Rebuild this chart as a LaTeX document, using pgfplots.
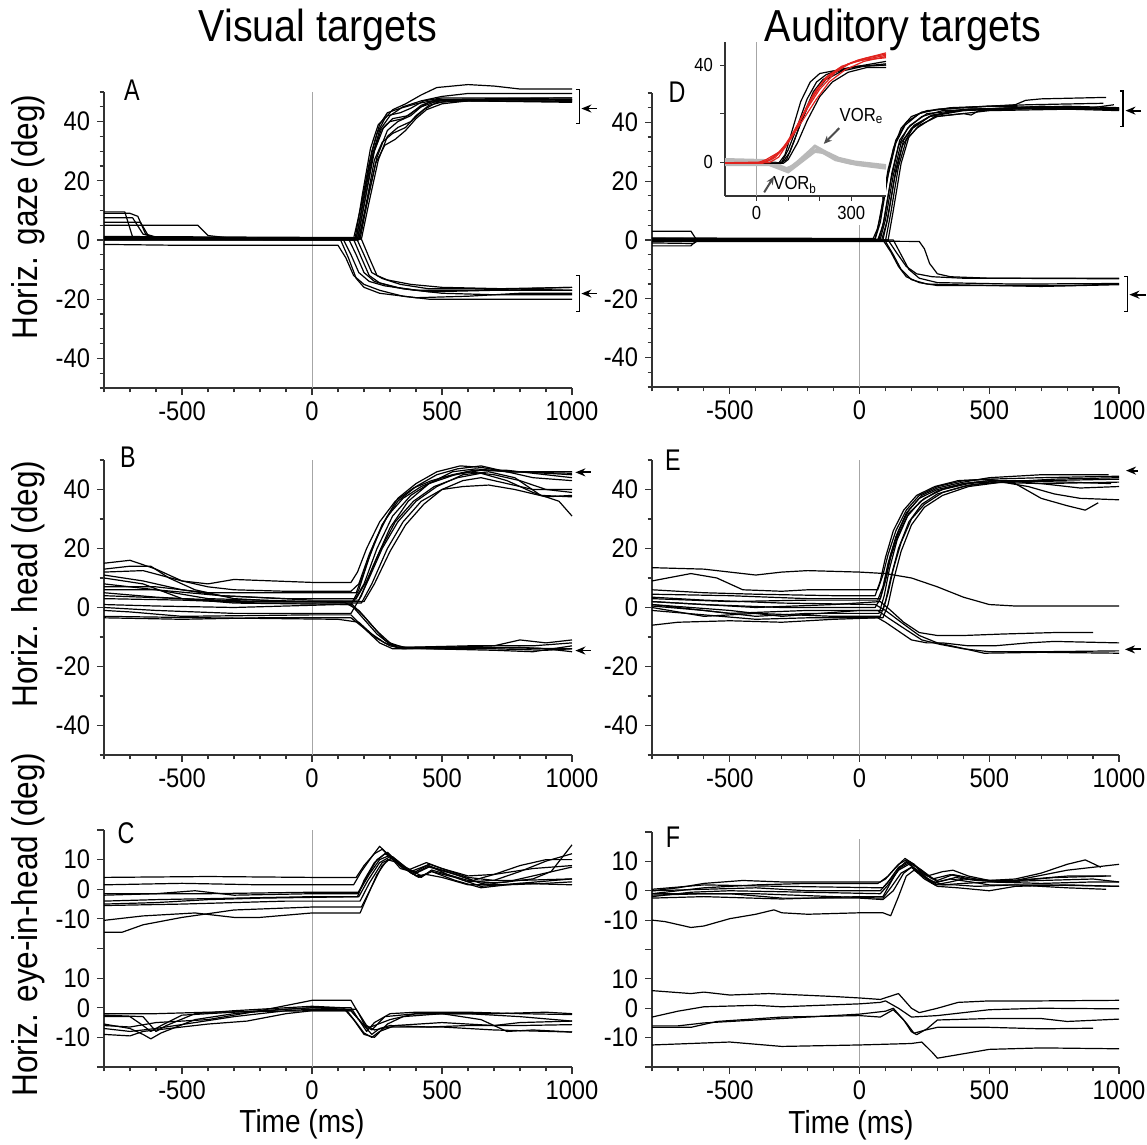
\documentclass[border=0pt]{standalone}
\usepackage{fontspec}
\setmainfont[FakeStretch=0.88]{Liberation Sans}
\newfontfamily\narrowf[FakeStretch=0.78]{Liberation Sans}
\usepackage{pgfplots}
\pgfplotsset{compat=1.18}
\usetikzlibrary{arrows.meta}
\definecolor{vred}{RGB}{225,35,30}
\pgfplotsset{
  tr/.style={black, line width=0.6bp, line join=round},
  pan/.style={scale only axis, width=234bp, anchor=south west,
    axis lines=left, axis line style={-, black!80, line width=0.7bp},
    xmin=-800, xmax=1000, xtick={-500,0,500,1000}, xticklabels={-500,0,500,1000},
    minor xtick={-800,-700,...,1000},
    tick align=outside, major tick length=3.5bp, minor tick length=2.2bp,
    tick style={black!80, line width=0.6bp},
    tick label style={font=\fontsize{13.5}{15}\selectfont},
    clip=false},
  r1/.style={ymin=-50, ymax=50, ytick={-40,-20,0,20,40}, yticklabels={-40,-20,0,20,40}, minor ytick={-50,-45,...,50}},
  r2/.style={ymin=-50, ymax=50, ytick={-40,-20,0,20,40}, yticklabels={-40,-20,0,20,40}, minor ytick={-50,-40,...,50}},
  r3/.style={ymin=-20, ymax=60, ytick={-20,-10,0,10,20,30,40,50,60}, yticklabels={,-10,0,10,,-10,0,10,}},
}
\tikzset{brk/.style={black, line width=0.7bp}, arr/.style={black, line width=0.9bp, -{Stealth[length=5bp,width=4bp]}}}
\begin{document}
\begin{tikzpicture}
\path[use as bounding box] (0,0) rectangle (573.5bp,572.5bp);
% ---------------- A ----------------
\begin{axis}[pan, r1, at={(52bp,378.5bp)}, height=148bp]
\draw[gray!70, line width=0.5bp] (axis cs:0,-50) -- (axis cs:0,50);
\addplot[tr] coordinates {(-800,9)(-700,9)(-670,8)(-640,2)(-600,1)(-400,0.5)(0,0.3)(160,0.5)(190,12)(220,26)(250,36)(280,41)(310,44)(360,46)(420,49)(480,51.5)(600,52.5)(700,52)(800,51)(1000,51)};
\addplot[tr] coordinates {(-800,0.5)(-400,0.3)(0,0.2)(170,0.4)(200,14)(230,28)(260,37)(300,42)(350,45)(420,47)(500,48.5)(600,49.5)(800,49.5)(1000,49.5)};
\addplot[tr] coordinates {(-800,7.5)(-690,7.5)(-650,2)(-600,0.8)(0,0.5)(175,0.5)(205,14)(235,29)(265,37)(300,40)(350,41)(400,44)(450,46.5)(550,47.5)(1000,47.5)};
\addplot[tr] coordinates {(-800,1)(0,0.6)(180,0.5)(210,12)(245,26)(280,32)(320,34)(360,37)(400,41)(440,44)(500,46)(600,47)(1000,47)};
\addplot[tr] coordinates {(-800,6)(-660,6)(-630,1.5)(-600,0.5)(185,0.3)(215,14)(250,28)(290,37)(330,40)(380,42)(420,45)(500,47.5)(1000,47.2)};
\addplot[tr] coordinates {(-800,0)(165,0)(195,16)(225,31)(255,39)(290,42)(340,43)(380,44.5)(430,47)(500,48)(1000,48)};
\addplot[tr] coordinates {(-800,5)(-440,5)(-400,1.5)(-300,0.5)(190,0.3)(220,13)(255,27)(290,35)(330,38)(380,40)(430,44)(480,46.5)(600,47)(1000,46.5)};
\addplot[tr] coordinates {(-800,9.5)(-720,9.5)(-690,1)(-600,0.3)(175,0)(205,14)(240,30)(275,38)(310,41)(370,42)(420,45.5)(480,47.5)(1000,48)};
\addplot[tr] coordinates {(-800,1)(170,0.5)(200,15)(230,30)(260,39)(290,43)(340,44.5)(400,46)(460,47)(1000,47.5)};
\addplot[tr] coordinates {(-800,0.3)(180,0)(210,13)(240,27)(270,33)(310,36)(360,38)(400,42)(450,45.5)(520,47)(1000,46.8)};
\addplot[tr] coordinates {(-800,-1.5)(-500,-1.8)(0,-1.8)(100,-1.8)(130,-6)(160,-12)(200,-15)(260,-17)(350,-19)(450,-20)(600,-20)(1000,-20)};
\addplot[tr] coordinates {(-800,0.5)(120,0.3)(150,-5)(180,-11)(220,-14)(280,-15.5)(400,-17)(600,-17)(800,-16.5)(1000,-16)};
\addplot[tr] coordinates {(-800,0.8)(140,0.5)(170,-5)(200,-11)(240,-14)(320,-16)(450,-17.5)(700,-17)(1000,-17)};
\addplot[tr] coordinates {(-800,0.2)(160,0.2)(190,-6)(220,-12)(260,-14.5)(350,-16.5)(500,-18)(700,-18.5)(1000,-18.5)};
\addplot[tr] coordinates {(-800,1.2)(170,0.8)(200,-5)(230,-11)(270,-13)(340,-15)(450,-16.5)(700,-16.5)(1000,-16)};
\addplot[tr] coordinates {(-800,0)(110,0)(140,-6)(170,-13)(200,-16)(260,-18)(400,-19.5)(600,-19)(800,-18)(1000,-18)};
\addplot[tr] coordinates {(-800,0.5)(190,0.3)(220,-6)(250,-12)(290,-13.5)(380,-15)(500,-16)(1000,-17)};
\draw[brk] (axis cs:1015,50.8) -- (axis cs:1028,50.8) -- (axis cs:1028,39.3) -- (axis cs:1015,39.3);
\draw[arr] (axis cs:1096,44.4) -- (axis cs:1036,44.4);
\draw[brk] (axis cs:1015,-12) -- (axis cs:1028,-12) -- (axis cs:1028,-24.2) -- (axis cs:1015,-24.2);
\draw[arr] (axis cs:1096,-18.1) -- (axis cs:1036,-18.1);
\end{axis}
% ---------------- D ----------------
\begin{axis}[pan, r1, at={(326bp,379bp)}, height=147bp, width=233.5bp]
\draw[gray!70, line width=0.5bp] (axis cs:0,-50) -- (axis cs:0,5);
\addplot[tr] coordinates {(-800,0)(50,0)(70,4)(100,18)(130,31)(160,38)(200,42)(260,44)(400,45)(600,46)(640,47.5)(700,48)(950,48.5)};
\addplot[tr] coordinates {(-800,0.5)(60,0.3)(80,6)(110,22)(140,33)(175,39)(230,43)(300,44.5)(500,45.5)(1000,44.5)};
\addplot[tr] coordinates {(-800,-0.3)(70,0)(90,5)(120,20)(150,32)(185,38)(240,42)(320,44)(600,45)(1000,44)};
\addplot[tr] coordinates {(-800,3)(-650,3)(-630,0.3)(80,0.3)(100,7)(130,22)(160,33)(200,38)(270,42)(400,44)(700,45.5)(1000,44.5)};
\addplot[tr] coordinates {(-800,0.2)(90,0)(110,8)(140,24)(170,34)(210,39)(280,42.5)(420,44.5)(800,45.5)(1000,45)};
\addplot[tr] coordinates {(-800,-2)(-650,-2)(-630,-0.3)(100,-0.2)(120,9)(150,25)(180,34)(220,38)(290,42)(400,43)(430,42.5)(460,44)(700,45)(1000,44.5)};
\addplot[tr] coordinates {(-800,-0.5)(110,0)(130,10)(160,26)(190,35)(230,39)(300,42)(500,44)(1000,44.8)};
\addplot[tr] coordinates {(-800,0.7)(60,0.5)(80,8)(110,24)(140,34)(180,40)(240,43.5)(350,45)(650,46)(940,46.5)};
\addplot[tr] coordinates {(-800,0)(75,0)(95,7)(125,23)(155,34)(195,39)(260,43)(380,44)(800,45)(1000,44.2)};
\addplot[tr] coordinates {(-800,-1)(-640,-1.2)(-620,0)(85,0)(105,6)(135,21)(165,32)(205,38)(270,42)(400,44.5)(900,45)(980,46)};
\addplot[tr] coordinates {(-800,0)(90,0)(120,-4)(150,-9)(180,-12.5)(230,-14.5)(300,-15.5)(500,-15.5)(800,-15.5)(1000,-15)};
\addplot[tr] coordinates {(-800,-0.5)(100,-0.5)(130,-5)(160,-10)(200,-13.5)(260,-15)(400,-15.3)(700,-15.8)(1000,-15.2)};
\addplot[tr] coordinates {(-800,0.3)(110,0)(140,-4)(180,-9)(220,-11.5)(280,-12.5)(400,-13)(1000,-13)};
\addplot[tr] coordinates {(-800,0)(230,-0.5)(250,-3)(270,-8)(300,-11.5)(350,-12.5)(500,-13)(1000,-13.2)};
\addplot[tr] coordinates {(-800,0.5)(130,0)(160,-5)(190,-10)(230,-13)(300,-14.5)(600,-15)(1000,-14.8)};
\draw[brk] (axis cs:1003,50.7) -- (axis cs:1016,50.7) -- (axis cs:1016,38.5) -- (axis cs:1003,38.5);
\draw[arr] (axis cs:1085,44) -- (axis cs:1025,44);
\draw[brk] (axis cs:1020,-12.5) -- (axis cs:1033,-12.5) -- (axis cs:1033,-24.3) -- (axis cs:1020,-24.3);
\draw[arr] (axis cs:1104,-18.6) -- (axis cs:1040,-18.6);
\end{axis}
% ---------------- inset ----------------
\begin{axis}[scale only axis, anchor=south west, at={(362.5bp,474.5bp)}, width=80.5bp, height=77bp,
  axis lines=left, axis line style={-, black!80, line width=0.6bp},
  xmin=-100, xmax=410, ymin=-14, ymax=49.5,
  xtick={0,100,200,300,400}, xticklabels={0,,,300,}, ytick={0,20,40}, yticklabels={0,,40},
  tick align=outside, major tick length=2.5bp, tick style={black!80, line width=0.5bp},
  tick label style={font=\fontsize{9.5}{10}\selectfont}, xticklabel style={yshift=1bp},
  axis background/.style={fill=white}, clip=false]
\draw[gray!70, line width=0.5bp] (axis cs:0,-14) -- (axis cs:0,49.5);
\addplot[gray!55, line width=1.6bp] coordinates {(-100,1)(50,0.5)(80,-2)(100,-3)(130,0)(160,3.5)(185,6.5)(220,4)(260,1.5)(310,0)(410,-1.5)};
\addplot[gray!55, line width=1.6bp] coordinates {(-100,-1)(40,-1)(70,-2.5)(100,-4)(130,-1)(165,2.5)(190,5)(230,3)(270,0.5)(320,-1)(410,-2.5)};
\addplot[gray!55, line width=1.6bp] coordinates {(-100,0)(50,0)(90,-3)(120,-1.5)(150,1.5)(180,4.5)(210,4)(250,1)(300,-0.5)(410,-2)};
\addplot[tr] coordinates {(-100,-0.5)(60,-0.5)(80,0)(100,5)(130,15)(160,26)(190,33)(220,36)(260,38)(320,39.5)(410,40)};
\addplot[tr] coordinates {(-100,-0.5)(75,-0.5)(95,1)(120,9)(150,20)(180,29)(210,34)(250,37)(300,39)(410,40.5)};
\addplot[tr] coordinates {(-100,-0.5)(85,-0.5)(100,1)(130,8)(160,17)(200,27)(240,33)(290,37)(350,39)(410,39)};
\addplot[tr] coordinates {(-100,-0.5)(70,-0.5)(90,3)(115,14)(140,25)(170,33)(200,36.5)(240,37.5)(300,39)(410,41.5)};
\addplot[tr] coordinates {(-100,-0.5)(80,-0.5)(105,4)(140,16)(180,28)(220,34)(270,37.5)(340,39.5)(410,40)};
\addplot[vred, line width=0.6bp] coordinates {(-100,-0.5)(10,-0.5)(40,1)(80,5)(120,13)(160,22)(200,30)(250,37)(300,41)(350,43)(410,44.5)};
\addplot[vred, line width=0.6bp] coordinates {(-100,-0.5)(20,-0.5)(50,1.5)(90,6)(130,15)(170,25)(210,33)(260,38.5)(320,42)(410,45)};
\addplot[vred, line width=0.6bp] coordinates {(-100,-0.3)(30,0)(60,2)(100,8)(140,18)(180,28)(220,35)(270,39.5)(330,42)(410,43)};
\addplot[vred, line width=0.6bp] coordinates {(-100,-0.5)(40,-0.3)(70,2)(110,10)(150,20)(190,30)(230,36)(290,40.5)(350,42.5)(410,44)};
\addplot[vred, line width=0.6bp] coordinates {(-100,-0.5)(0,-0.5)(30,1)(70,4)(110,10)(150,18)(190,26)(230,33)(280,38)(340,41.5)(410,43.5)};
\draw[black!70, line width=1bp, -{Stealth[length=4bp,width=3.5bp]}] (axis cs:262,14) -- (axis cs:213,7.5);
\draw[black!70, line width=1bp, -{Stealth[length=4bp,width=3.5bp]}] (axis cs:24,-12.5) -- (axis cs:55,-6);
\node[font=\fontsize{9.5}{10}\selectfont, anchor=west, inner sep=0pt] at (axis cs:262,19) {VOR\textsubscript{e}};
\node[font=\fontsize{9.5}{10}\selectfont, anchor=west, inner sep=0pt] at (axis cs:52,-9.5) {VOR\textsubscript{b}};
\end{axis}
% ---------------- B ----------------
\begin{axis}[pan, r2, at={(52bp,195bp)}, height=147.5bp]
\draw[gray!70, line width=0.5bp] (axis cs:0,-50) -- (axis cs:0,50);
\addplot[tr] coordinates {(-800,15)(-700,16)(-600,13)(-500,9)(-400,7)(-300,6)(-100,5.5)(150,5.5)(180,8)(220,18)(270,28)(330,36)(400,41)(480,45)(560,47)(650,48)(750,46)(850,46)(1000,46)};
\addplot[tr] coordinates {(-800,13)(-700,14)(-620,14)(-550,10)(-450,6)(-300,3)(-100,2)(160,2)(200,8)(250,20)(310,31)(380,38)(450,42)(550,45)(650,46.5)(800,46)(1000,45)};
\addplot[tr] coordinates {(-800,11)(-650,9)(-500,6)(-350,4)(-100,3)(170,3)(210,9)(260,19)(320,29)(390,36)(470,41)(560,44)(650,45.5)(750,43)(850,39)(950,36)(1000,31)};
\addplot[tr] coordinates {(-800,7)(-600,7)(-400,5)(-200,5)(170,5)(200,12)(240,22)(290,31)(350,37)(420,41)(500,44)(600,46)(700,45)(800,43)(900,40)(1000,39)};
\addplot[tr] coordinates {(-800,6)(-600,6)(-350,4)(0,2.5)(180,2.5)(220,10)(270,20)(330,29)(400,36)(480,41)(580,45)(680,46)(780,44)(880,38)(1000,37.5)};
\addplot[tr] coordinates {(-800,3)(-500,2.5)(-200,1.5)(190,1.5)(230,8)(290,20)(350,29)(420,36)(500,40)(580,41)(680,41.5)(780,40)(900,37.5)(1000,38)};
\addplot[tr] coordinates {(-800,10)(-650,8)(-500,3)(-300,1.5)(150,1)(180,6)(220,17)(270,28)(330,37)(400,42)(480,46)(570,48)(650,47.5)(750,46)(850,44)(1000,43)};
\addplot[tr] coordinates {(-800,12)(-650,12.5)(-500,9)(-400,8)(-300,9.5)(0,8.5)(150,8.5)(175,12)(210,20)(260,29)(320,36)(390,40.5)(460,43)(540,45)(620,46.5)(750,46.5)(850,45.5)(1000,44)};
\addplot[tr] coordinates {(-800,5)(-600,3.5)(-300,2)(200,2)(240,8)(300,19)(360,28)(430,35)(500,40)(580,43)(650,44)(750,42)(850,40)(1000,40)};
\addplot[tr] coordinates {(-800,0)(-600,-1)(-300,-2)(150,-2)(190,4)(240,15)(300,27)(370,36)(450,42)(540,46)(630,47)(750,46)(1000,45.5)};
\addplot[tr] coordinates {(-800,-3.5)(-500,-4)(-200,-3.5)(150,-3.5)(200,-7)(250,-10.5)(300,-13)(350,-14)(500,-13.5)(700,-13)(800,-11)(900,-12)(1000,-11)};
\addplot[tr] coordinates {(-800,-3)(-400,-3.5)(100,-4)(180,-5)(230,-9)(280,-12)(330,-13.5)(500,-14)(700,-14)(900,-14.5)(1000,-14)};
\addplot[tr] coordinates {(-800,1)(-600,0.5)(-300,0)(100,1)(150,1)(200,-4)(250,-9)(300,-12.5)(360,-13.5)(600,-13)(850,-13)(1000,-12)};
\addplot[tr] coordinates {(-800,4)(-500,3)(-200,2)(120,2)(180,-1)(230,-6)(280,-11)(330,-13.5)(450,-14)(700,-14.5)(850,-15)(1000,-13)};
\addplot[tr] coordinates {(-800,-1)(-700,-1.5)(-500,-3)(0,-2.5)(150,-2.5)(200,-7)(260,-12)(310,-14)(500,-14)(800,-13.5)(900,-14)(1000,-15)};
\addplot[tr] coordinates {(-800,8)(-600,6)(-400,3)(0,2)(150,1.5)(200,-3)(250,-8)(300,-12)(350,-13.5)(600,-13.5)(1000,-14)};
\draw[arr] (axis cs:1073,45.8) -- (axis cs:1013,45.8);
\draw[arr] (axis cs:1073,-14.6) -- (axis cs:1013,-14.6);
\end{axis}
% ---------------- E ----------------
\begin{axis}[pan, r2, at={(326bp,195bp)}, height=147.5bp, width=233.5bp]
\draw[gray!70, line width=0.5bp] (axis cs:0,-50) -- (axis cs:0,50);
\addplot[tr] coordinates {(-800,2)(-600,1)(-300,0)(60,0)(80,3)(100,10)(120,18)(150,26)(190,33)(240,38)(300,40.5)(400,42.5)(500,44)(700,45)(960,45)};
\addplot[tr] coordinates {(-800,3)(-500,2)(-200,2.5)(70,2.5)(90,7)(110,15)(140,24)(180,32)(230,37)(300,40)(400,42)(500,43)(700,43)(1000,43.5)};
\addplot[tr] coordinates {(-800,0)(-600,-3)(-400,-2)(-100,-3)(80,-3)(100,2)(120,10)(150,20)(190,29)(240,35)(300,38.5)(400,41)(500,42.5)(700,42)(1000,42.5)};
\addplot[tr] coordinates {(-800,9)(-650,11.5)(-550,10)(-450,6)(-300,5.5)(-200,6)(70,6)(90,11)(110,18)(140,26)(180,33)(230,38)(300,41)(400,43)(500,43.5)(600,42)(700,37)(800,34.5)(870,33)(920,35.5)};
\addplot[tr] coordinates {(-800,4.5)(-500,4)(-200,3)(80,3)(100,9)(120,17)(150,25)(190,32)(250,37)(320,40)(420,42)(550,43)(700,42)(850,40.5)(1000,41)};
\addplot[tr] coordinates {(-800,1)(-500,-1)(-300,-3)(0,-1)(90,-1)(110,5)(130,13)(160,22)(200,30)(250,35)(320,39)(420,41.5)(550,42.5)(650,41)(750,38.5)(850,37)(1000,36.5)};
\addplot[tr] coordinates {(-800,-1)(-400,-4)(-200,-3.5)(90,-3.5)(110,1)(130,9)(160,19)(200,28)(250,34)(320,38)(420,41)(550,42.5)(750,43.5)(1000,44)};
\addplot[tr] coordinates {(-800,6)(-600,5)(-400,4.5)(-100,4)(60,4)(80,9)(100,17)(130,26)(170,33)(220,38)(290,41)(380,43)(500,43.5)(700,44)(1000,44.5)};
\addplot[tr] coordinates {(-800,0.5)(-600,-1)(-400,-3)(-200,-2)(75,-2)(95,4)(115,13)(145,23)(185,31)(235,36)(300,39.5)(400,42)(500,43)(800,42.5)(970,42)};
\addplot[tr] coordinates {(-800,13.5)(-600,13)(-400,11)(-300,12)(-200,12.5)(0,12)(100,11.5)(200,10)(300,7)(400,3.5)(500,1)(600,0.5)(1000,0.5)};
\addplot[tr] coordinates {(-800,-6)(-700,-5)(-500,-4.5)(-300,-5)(-100,-4)(70,-3.5)(100,-5)(150,-8)(200,-11)(260,-12)(320,-12)(420,-13)(520,-13)(650,-12)(750,-11.5)(1000,-12)};
\addplot[tr] coordinates {(-800,2)(-400,0)(-100,1)(80,2)(120,-1)(170,-5)(230,-8.5)(300,-9.5)(400,-9.5)(550,-9)(750,-8.5)(900,-8.5)};
\addplot[tr] coordinates {(-800,1)(-500,-2)(-200,-1)(70,-1)(110,-3.5)(170,-7)(240,-11)(310,-12.5)(400,-14)(500,-15)(700,-15)(1000,-14.7)};
\addplot[tr] coordinates {(-800,3.5)(-600,2.5)(-300,1.5)(60,1)(100,-1)(160,-5)(230,-9.5)(300,-12)(380,-13.5)(480,-15.5)(700,-15.2)(1000,-15.5)};
\draw[arr] (axis cs:1073,46.4) -- (axis cs:1027,46.4);
\draw[arr] (axis cs:1085,-14.2) -- (axis cs:1023,-14.2);
\end{axis}
% ---------------- C ----------------
\begin{axis}[pan, r3, at={(52bp,39bp)}, height=118.5bp]
\draw[gray!70, line width=0.5bp] (axis cs:0,-20) -- (axis cs:0,60);
\addplot[tr] coordinates {(-800,44)(-400,44.3)(0,44)(170,44)(200,48)(240,52)(270,53.5)(300,51)(350,47)(400,46)(450,48.5)(500,47)(600,44)(700,43)(800,43)(1000,43.5)};
\addplot[tr] coordinates {(-800,41.5)(-500,42)(-200,41.5)(160,41.5)(190,46)(230,51)(260,54.5)(290,52)(340,47)(400,45.5)(450,48)(520,45)(600,43)(700,42)(850,43.5)(920,46)(1000,55)};
\addplot[tr] coordinates {(-800,38)(-600,38.5)(-450,39.5)(-300,38)(0,38.5)(175,38.5)(210,44)(250,50)(290,52.5)(330,49)(380,45.5)(420,44)(460,46.5)(520,45)(600,42.5)(700,43)(800,46)(900,49.5)(1000,52)};
\addplot[tr] coordinates {(-800,38.5)(-400,38.5)(0,39)(180,39)(220,45)(260,50)(300,51.5)(340,48)(390,45)(450,47.5)(550,45)(650,42)(750,42.5)(850,44.5)(1000,47.5)};
\addplot[tr] coordinates {(-800,35)(-600,35.5)(-400,36.5)(-200,37)(180,37.5)(215,43)(260,49)(300,51)(350,47.5)(400,44.5)(440,45)(500,44)(600,41.5)(750,41.5)(900,42)(1000,42.5)};
\addplot[tr] coordinates {(-800,34.5)(-500,35)(-100,36)(185,36)(220,42)(270,49)(310,50.5)(360,47)(410,44)(460,46)(550,44)(650,41)(800,42)(1000,43.5)};
\addplot[tr] coordinates {(-800,29.5)(-650,31)(-450,32)(-300,30.5)(-200,30.5)(0,32)(185,32)(210,37)(250,45)(290,50)(330,49)(380,46)(440,48)(520,46)(620,43)(700,45)(800,48)(900,50)(1000,50)};
\addplot[tr] coordinates {(-800,25.5)(-730,25.5)(-650,28)(-500,30.5)(-300,33)(0,34)(190,34)(230,41)(270,48)(310,51)(360,47.5)(420,44.5)(460,46)(550,43)(650,40.5)(800,42)(1000,41.5)};
\addplot[tr] coordinates {(-800,36)(-600,36.5)(-300,37)(0,37.5)(175,37.5)(200,43)(240,49)(280,52)(320,50)(370,46.5)(440,49)(500,47)(600,44.5)(700,45)(850,47)(1000,48)};
\addplot[tr] coordinates {(-800,-3)(-700,-3)(-650,-6)(-620,-8)(-580,-6)(-500,-2.5)(-300,-1.5)(0,0)(150,0)(180,-4)(210,-8)(240,-5)(300,-2)(400,-1.5)(600,-1.5)(800,-2)(1000,-2.3)};
\addplot[tr] coordinates {(-800,-5.5)(-700,-7)(-650,-9)(-620,-10.5)(-580,-8.5)(-450,-4)(-300,-2)(-100,-0.5)(0,0)(130,-0.5)(170,-5)(200,-8.5)(230,-10)(260,-8)(320,-6)(500,-5)(700,-6)(800,-5)(1000,-4.5)};
\addplot[tr] coordinates {(-800,-9)(-700,-9.5)(-650,-8)(-550,-7)(-400,-5.5)(-250,-4.5)(-100,-2)(0,-1)(150,-1)(190,-5)(230,-9)(260,-7)(300,-6)(450,-6.5)(600,-6)(800,-6)(1000,-5.7)};
\addplot[tr] coordinates {(-800,-6)(-700,-6.5)(-600,-5)(-400,-4)(-200,-1)(0,2.5)(100,2.5)(150,2.5)(180,-2)(210,-7)(240,-6)(300,-4)(400,-2)(600,-2)(800,-3)(1000,-4.5)};
\addplot[tr] coordinates {(-800,-2.5)(-650,-3)(-600,-8)(-560,-6)(-450,-2)(-300,-1)(-100,0)(0,0.5)(120,0)(160,-4)(200,-9)(240,-10)(290,-5.5)(350,-3)(500,-2)(650,-4)(750,-8)(850,-7.5)(1000,-8.2)};
\addplot[tr] coordinates {(-800,-2)(-600,-2)(-400,-1.5)(0,-1)(150,-1)(190,-5)(230,-7.5)(280,-3)(400,-2)(700,-2)(900,-1.5)(1000,-2)};
\addplot[tr] coordinates {(-800,-7)(-700,-8)(-600,-7)(-450,-5)(-300,-3)(-100,-1)(0,-0.5)(170,-0.5)(210,-6)(240,-7.5)(300,-6.5)(500,-6.5)(700,-7.5)(1000,-8.2)};
\end{axis}
% ---------------- F ----------------
\begin{axis}[pan, r3, at={(326bp,39bp)}, height=117.5bp, width=233.5bp]
\draw[gray!70, line width=0.5bp] (axis cs:0,-20) -- (axis cs:0,57.5);
\addplot[tr] coordinates {(-800,40)(-700,41)(-600,42.5)(-450,43.5)(-300,43)(80,43)(110,45)(150,49)(180,50.5)(210,49)(250,45)(290,42)(350,43)(400,44)(500,43.5)(600,44)(700,46)(800,49)(870,50.5)(930,48)};
\addplot[tr] coordinates {(-800,39)(-600,41)(-400,42)(-200,42.5)(70,42.5)(100,44)(140,48)(175,51)(210,49)(260,45)(320,46.5)(360,47)(420,45)(500,43.5)(600,43.5)(800,47)(1000,49)};
\addplot[tr] coordinates {(-800,40.5)(-600,42)(-300,41.5)(90,41)(120,44)(160,48)(190,49.5)(230,46)(280,42.5)(350,44)(430,43)(500,42)(700,42)(1000,41.5)};
\addplot[tr] coordinates {(-800,38)(-650,39.5)(-500,40)(-200,39.5)(80,39)(110,42)(150,47)(190,49)(240,46)(300,43.5)(360,45.5)(450,44)(550,43)(750,44.5)(950,45)};
\addplot[tr] coordinates {(-800,38.5)(-600,39)(-400,39)(-100,38)(90,37.5)(120,41)(160,46)(200,48)(250,44)(300,41.5)(380,41)(500,40)(600,41.5)(800,42)(1000,41.5)};
\addplot[tr] coordinates {(-800,40)(-600,40.5)(-400,41)(-200,40)(80,40)(110,43)(150,48)(190,50)(240,47)(300,43)(370,44.5)(450,43.5)(600,43.5)(800,45)(970,45)};
\addplot[tr] coordinates {(-800,39)(-500,39)(-300,37.5)(0,37.5)(90,37)(130,40)(170,46)(200,48)(250,45)(300,42)(370,42)(450,41.5)(600,42)(800,41)(950,40.5)};
\addplot[tr] coordinates {(-800,30)(-750,29.5)(-650,27.5)(-600,28)(-500,30.5)(-400,32)(-330,33.5)(-300,32.5)(-200,32)(0,32.5)(90,32.5)(120,31.5)(150,38)(180,45)(210,47)(260,44)(320,42)(400,42.5)(500,43)(700,42.5)(900,43)(1000,43)};
\addplot[tr] coordinates {(-800,37.5)(-600,38)(-300,37.2)(0,38)(90,38)(115,42)(150,47.5)(180,50)(220,48)(280,44)(350,45.5)(420,44)(520,43)(700,43.5)(900,44)(1000,43)};
\addplot[tr] coordinates {(-800,6)(-650,5)(-600,5.5)(-500,4.5)(-350,5)(-100,4)(0,3.5)(80,3)(150,5)(200,0)(230,-1.5)(300,0)(380,2)(500,2.5)(700,2.5)(1000,2.7)};
\addplot[tr] coordinates {(-800,-3)(-700,-1)(-600,0.5)(-400,1)(-300,0.5)(0,1.5)(80,2)(100,2.5)(150,0)(200,-3)(300,-2.5)(400,-1.5)(500,-0.5)(700,0)(1000,-0.2)};
\addplot[tr] coordinates {(-800,-6)(-700,-6)(-600,-5)(-400,-4)(-200,-3)(0,-2)(100,-1)(130,0)(180,-5)(210,-8.5)(250,-7.5)(300,-6.5)(500,-6.5)(700,-7)(900,-6.8)};
\addplot[tr] coordinates {(-800,-6.5)(-650,-6.5)(-550,-4.5)(-300,-3)(0,-2.5)(80,-3)(130,-0.5)(170,-4)(200,-8)(220,-9)(260,-7)(300,-4)(500,-3.5)(700,-3.5)(800,-4.5)(1000,-3.7)};
\addplot[tr] coordinates {(-800,-12.5)(-500,-11.5)(-300,-13)(0,-12.5)(200,-12)(240,-11.5)(280,-15)(300,-17)(400,-15.5)(500,-14)(700,-13.5)(1000,-13.8)};
\end{axis}
% ---------------- texts ----------------
\node[font=\fontsize{22.5}{26}\selectfont] at (159bp,557.5bp) {Visual targets};
\node[font=\fontsize{22.5}{26}\selectfont] at (451.5bp,557.5bp) {Auditory targets};
\node[font=\fontsize{18}{20}\selectfont, rotate=90] at (14bp,464bp) {Horiz. gaze (deg)};
\node[font=\fontsize{18}{20}\selectfont, rotate=90] at (14bp,280.5bp) {Horiz. head (deg)};
\node[font=\fontsize{18}{20}\selectfont, rotate=90] at (14bp,110bp) {Horiz. eye-in-head (deg)};
\node[font=\fontsize{16}{18}\selectfont, inner sep=0pt] at (151bp,10.5bp) {Time (ms)};
\node[font=\fontsize{16}{18}\selectfont, inner sep=0pt] at (425.5bp,10bp) {Time (ms)};
\node[font=\narrowf\fontsize{15}{16}\selectfont] at (66bp,527.5bp) {A};
\node[font=\narrowf\fontsize{15}{16}\selectfont] at (64bp,344bp) {B};
\node[font=\narrowf\fontsize{15}{16}\selectfont] at (63bp,156bp) {C};
\node[font=\narrowf\fontsize{15}{16}\selectfont] at (338.5bp,526.5bp) {D};
\node[font=\narrowf\fontsize{15}{16}\selectfont] at (336.5bp,342.5bp) {E};
\node[font=\narrowf\fontsize{15}{16}\selectfont] at (336.5bp,154bp) {F};
\end{tikzpicture}
\end{document}
